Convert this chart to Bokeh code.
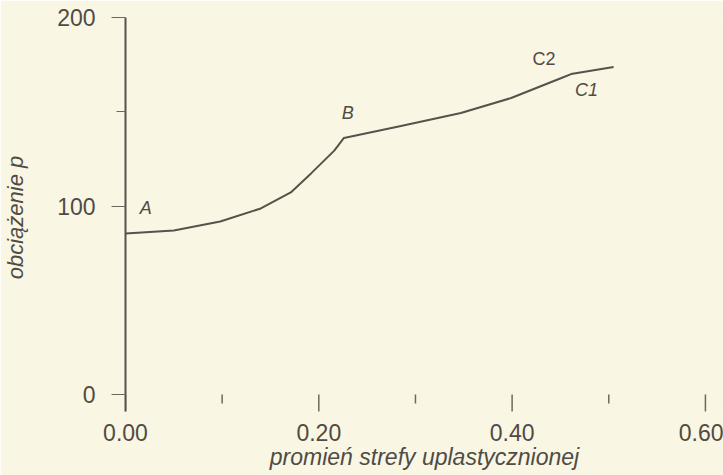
from bokeh.plotting import figure
from bokeh.models import ColumnDataSource, FixedTicker, Range1d
from bokeh.core.properties import value
from bokeh.embed import file_html
from bokeh.resources import INLINE

# data
r_values = [0.0, 0.05, 0.098, 0.140, 0.171, 0.192, 0.216, 0.226, 0.285, 0.347, 0.399, 0.451, 0.461, 0.505]
p_values = [85.4, 87.0, 91.8, 98.7, 107.2, 117.3, 129.4, 136.1, 142.5, 149.3, 157.3, 167.9, 170.0, 173.7]

point_names = ["A", "B", "C2", "C1"]
point_r = [0.021, 0.230, 0.433, 0.477]
point_p = [99.0, 149.6, 178.0, 161.8]
point_styles = ["italic", "italic", "normal", "italic"]

x_major = [0.0, 0.2, 0.4, 0.6]
x_minor = [0.1, 0.3, 0.5]
x_tick_labels = ["0.00", "0.20", "0.40", "0.60"]
y_major = [0, 100, 200]
y_minor = [150]

BG = "#f9f6e4"
INK = "#57524a"
TXT = "#4f4b45"
FONT = "Liberation Sans"

p = figure(width=723, height=475, output_backend="svg", toolbar_location=None,
           x_range=Range1d(0.0, 0.6187), y_range=Range1d(-9.0, 200.0),
           min_border_left=125, min_border_right=0, min_border_top=17, min_border_bottom=64)
p.background_fill_color = BG
p.border_fill_color = BG
p.outline_line_color = None
p.grid.visible = False

# x axis: labels only, ticks drawn as segments hanging below the zero level
xa = p.xaxis[0]
xa.ticker = FixedTicker(ticks=x_major)
xa.major_label_overrides = {t: l for t, l in zip(x_major, x_tick_labels)}
xa.axis_line_color = None
xa.major_tick_line_color = None
xa.minor_tick_line_color = None
xa.major_label_standoff = 6
xa.major_label_text_font = FONT
xa.major_label_text_font_size = "23px"
xa.major_label_text_color = TXT
xa.axis_label = "promień strefy uplastycznionej"
xa.axis_label_text_font = FONT
xa.axis_label_text_font_style = "italic"
xa.axis_label_text_font_size = "23px"
xa.axis_label_text_color = TXT
xa.axis_label_standoff = 0

ya = p.yaxis[0]
ya.ticker = FixedTicker(ticks=y_major, minor_ticks=y_minor)
ya.axis_line_color = INK
ya.axis_line_width = 2
ya.major_tick_line_color = "#6d685f"
ya.minor_tick_line_color = "#6d685f"
ya.major_tick_in = 0
ya.major_tick_out = 14
ya.minor_tick_in = 0
ya.minor_tick_out = 9
ya.major_label_standoff = 16
ya.major_label_text_font = FONT
ya.major_label_text_font_size = "23px"
ya.major_label_text_color = TXT
ya.axis_label = "obciążenie  p"
ya.axis_label_text_font = FONT
ya.axis_label_text_font_style = "italic"
ya.axis_label_text_font_size = "22px"
ya.axis_label_text_color = TXT
ya.axis_label_standoff = 26

# tick marks below the zero line
p.segment(x0=x_major, y0=[0.0] * len(x_major), x1=x_major, y1=[-9.5] * len(x_major),
          line_color="#6d685f", line_width=1.5)
p.segment(x0=x_minor, y0=[0.0] * len(x_minor), x1=x_minor, y1=[-4.7] * len(x_minor),
          line_color="#6d685f", line_width=1.5)

p.line(r_values, p_values, line_color=INK, line_width=2)

src = ColumnDataSource(dict(x=point_r, y=point_p, t=point_names, s=point_styles))
p.text(x="x", y="y", text="t", source=src, text_font=value(FONT), text_font_size="18px",
       text_font_style="s", text_color=TXT, text_align="center", text_baseline="middle")

open("out.html", "w").write(file_html(p, INLINE))
